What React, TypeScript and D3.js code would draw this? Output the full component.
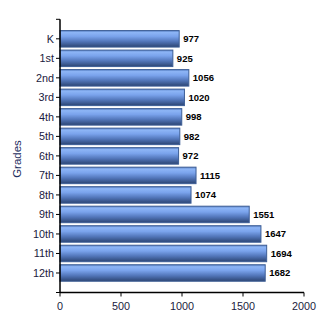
import React from "react";
import * as d3 from "d3";

const grades = ["K", "1st", "2nd", "3rd", "4th", "5th", "6th", "7th", "8th", "9th", "10th", "11th", "12th"];
const counts = [977, 925, 1056, 1020, 998, 982, 972, 1115, 1074, 1551, 1647, 1694, 1682];
const xTicks = [0, 500, 1000, 1500, 2000];
const yTitle = "Grades";

export default function App() {
  const W = 330, H = 330;
  const left = 60, right = 304, top = 19.3, bottom = 292.5;
  const x = d3.scaleLinear().domain([0, 2000]).range([left, right]);
  const y = d3.scalePoint<string>().domain(grades).range([top, bottom]).padding(1);
  const barH = 16.5;
  const font = "Arial, 'Liberation Sans', sans-serif";
  return (
    <svg width={W} height={H} style={{ position: "absolute", left: 0, top: 0 }}>
      <defs>
        <linearGradient id="barGrad" x1="0" y1="0" x2="0" y2="1">
          <stop offset="0" stopColor="#5a82c6" />
          <stop offset="0.12" stopColor="#8db5f6" />
          <stop offset="0.35" stopColor="#7aa3ec" />
          <stop offset="0.65" stopColor="#5377bb" />
          <stop offset="1" stopColor="#2c4573" />
        </linearGradient>
      </defs>
      <rect x={0} y={0} width={W} height={H} fill="#fff" />
      {grades.map((g, i) => {
        const cy = y(g)!;
        return (
          <g key={g}>
            <rect x={x(0)} y={cy - barH / 2} width={x(counts[i]) - x(0)} height={barH}
              fill="url(#barGrad)" stroke="#3d5e96" strokeWidth={1} />
            <text x={x(counts[i]) + 4} y={cy} dy="0.35em" fontFamily={font} fontWeight="bold"
              fontSize={9.5} fill="#000">{counts[i]}</text>
            <line x1={left - 4} x2={left} y1={cy} y2={cy} stroke="#000" />
            <text x={left - 6} y={cy} dy="0.36em" textAnchor="end" fontFamily={font} fontSize={10.8} fill="#1a1a40">{g}</text>
          </g>
        );
      })}
      <line x1={left - 4} x2={left} y1={top} y2={top} stroke="#000" />
      <line x1={left - 4} x2={left} y1={bottom} y2={bottom} stroke="#000" />
      <line x1={left} x2={left} y1={top} y2={bottom} stroke="#000" strokeWidth={1.5} />
      <line x1={left} x2={right} y1={bottom} y2={bottom} stroke="#000" strokeWidth={1.5} />
      {xTicks.map((t) => (
        <g key={t}>
          <line x1={x(t)} x2={x(t)} y1={bottom} y2={bottom + 4} stroke="#000" />
          <text x={x(t)} y={bottom + 14} dy="0.35em" textAnchor="middle" fontFamily={font} fontSize={10.8} fill="#1a1a40">{t}</text>
        </g>
      ))}
      <text transform={`translate(21,159) rotate(-90)`} textAnchor="middle" fontFamily={font}
        fontSize={11.5} fill="#1f2f5f">{yTitle}</text>
    </svg>
  );
}
